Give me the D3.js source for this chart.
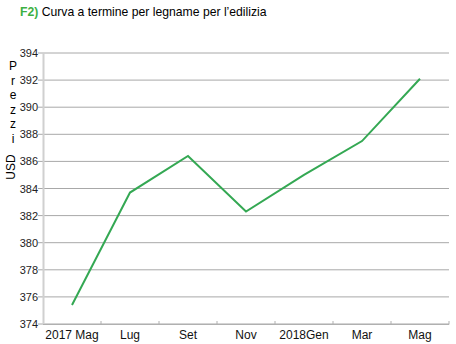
<!DOCTYPE html>
<html>
<head>
<meta charset="utf-8">
<script src="https://cdn.jsdelivr.net/npm/d3@7"></script>
<style>
  body { margin: 0; background: #fff; }
  svg { display: block; font-family: Arial, "Liberation Sans", sans-serif; }
</style>
</head>
<body>
<script>
const months = ["2017 Mag", "Lug", "Set", "Nov", "2018Gen", "Mar", "Mag"];
const prices = [375.4, 383.7, 386.4, 382.3, 385.0, 387.5, 392.1];
const yTicks = [374, 376, 378, 380, 382, 384, 386, 388, 390, 392, 394];

const width = 456, height = 344;
const plotLeft = 43, plotRight = 449, plotTop = 53, plotBottom = 324;

const svg = d3.select("body").append("svg")
    .attr("width", width).attr("height", height);

let scaleX = d3.scaleBand(months, [plotLeft, plotRight]);
let scaleY = d3.scaleLinear([374, 394], [plotBottom, plotTop]);
let xCenter = d => scaleX(d) + scaleX.bandwidth() / 2;

// title
let title = svg.append("text").attr("x", 20).attr("y", 16).style("font-size", "12.2px");
title.append("tspan").attr("fill", "#3cb043").style("font-weight", "bold").text("F2)");
title.append("tspan").attr("fill", "#000").text(" Curva a termine per legname per l\u2019edilizia");

// gridlines
svg.append("g").selectAll("line").data(yTicks).enter().append("line")
    .attr("x1", plotLeft - 5).attr("x2", plotRight)
    .attr("y1", d => scaleY(d)).attr("y2", d => scaleY(d))
    .attr("stroke", "#a8a8a8").attr("stroke-width", 1);

// y axis line
svg.append("line").attr("x1", plotLeft + 0.5).attr("x2", plotLeft + 0.5)
    .attr("y1", plotTop).attr("y2", plotBottom)
    .attr("stroke", "#d0d0d0").attr("stroke-width", 2);

// y tick labels
svg.append("g").selectAll("text").data(yTicks).enter().append("text")
    .attr("x", 38).attr("y", d => scaleY(d) + 4)
    .attr("text-anchor", "end")
    .style("font-family", "'Liberation Sans Narrow', 'Arial Narrow', Arial, sans-serif")
    .style("font-size", "11px")
    .attr("fill", "#222")
    .text(d => d);

// x axis
svg.append("line").attr("x1", plotLeft).attr("x2", plotRight)
    .attr("y1", plotBottom + 0.5).attr("y2", plotBottom + 0.5)
    .attr("stroke", "#b0b0b0").attr("stroke-width", 1);
svg.append("g").selectAll("line").data(months).enter().append("line")
    .attr("x1", d => scaleX(d) + scaleX.step())
    .attr("x2", d => scaleX(d) + scaleX.step())
    .attr("y1", plotBottom - 3).attr("y2", plotBottom + 0.5)
    .attr("stroke", "#b0b0b0");

svg.append("g").selectAll("text").data(months).enter().append("text")
    .attr("x", xCenter).attr("y", 339)
    .attr("text-anchor", "middle")
    .style("font-size", "12px")
    .attr("fill", "#111")
    .text(d => d);

// y axis title
svg.append("g").selectAll("text").data("Prezzi".split("")).enter().append("text")
    .attr("x", 13).attr("y", (d, i) => 70 + i * 14.6)
    .attr("text-anchor", "middle")
    .style("font-size", "12px")
    .text(d => d);
svg.append("text")
    .attr("transform", "translate(15,167) rotate(-90)")
    .attr("text-anchor", "middle")
    .style("font-size", "12px")
    .text("USD");

// price line
let line = d3.line().x((d, i) => xCenter(months[i])).y(d => scaleY(d));
svg.append("path").datum(prices)
    .attr("d", line)
    .attr("fill", "none")
    .attr("stroke", "#34a853")
    .attr("stroke-width", 2);
</script>
</body>
</html>
